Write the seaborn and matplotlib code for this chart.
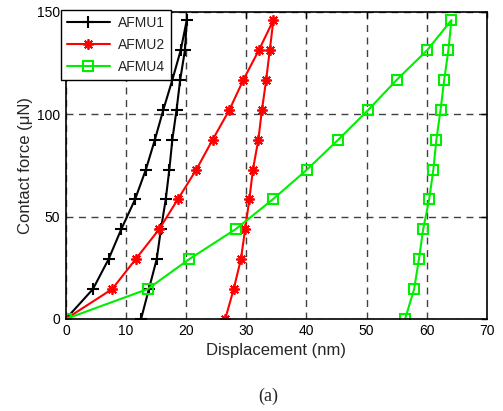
import matplotlib
matplotlib.use("Agg")
import matplotlib.pyplot as plt
import seaborn as sns
import pandas as pd

# ---- data ----
force_levels = [0, 14.6, 29.2, 43.8, 58.4, 73.0, 87.6, 102.2, 116.8, 131.4, 146.0]

afmu1_load = [0, 4.5, 7.1, 9.2, 11.5, 13.3, 14.8, 16.2, 17.7, 19.1, 20.1]
afmu1_unload = [19.8, 19.0, 18.4, 17.7, 17.2, 16.6, 15.8, 15.1, 13.8, 12.5]

afmu2_load = [0, 7.7, 11.6, 15.5, 18.6, 21.7, 24.4, 27.2, 29.5, 32.1, 34.5]
afmu2_unload = [33.9, 33.3, 32.6, 32.0, 31.1, 30.5, 29.8, 29.1, 27.9, 26.5]

afmu4_load = [0, 13.6, 20.5, 28.2, 34.4, 40.1, 45.3, 50.3, 55.0, 60.1, 64.1]
afmu4_unload = [63.6, 62.9, 62.3, 61.6, 61.1, 60.4, 59.4, 58.7, 57.9, 56.4]

series_names = ["AFMU1", "AFMU2", "AFMU4"]
x_ticks = [0, 10, 20, 30, 40, 50, 60, 70]
y_ticks = [0, 50, 100, 150]

# ---- build table ----
rows = []
for name, load, unload in zip(series_names,
                              [afmu1_load, afmu2_load, afmu4_load],
                              [afmu1_unload, afmu2_unload, afmu4_unload]):
    disp = load + unload
    force = force_levels + force_levels[:-1][::-1]
    for i, (d, f) in enumerate(zip(disp, force)):
        rows.append({"series": name, "disp": d, "force": f, "order": i})
df = pd.DataFrame(rows)

sns.set_style("white")
plt.rcParams["font.family"] = ["Liberation Sans", "DejaVu Sans"]
plt.rcParams["xtick.direction"] = "in"
plt.rcParams["ytick.direction"] = "in"

fig = plt.figure(figsize=(5.03, 4.11), dpi=100)
ax = fig.add_axes([0.131, 0.224, 0.837, 0.747])

styles = {
    "AFMU1": dict(color="black", marker="+", markersize=9, markeredgewidth=1.5,
                  markerfacecolor="black"),
    "AFMU2": dict(color="#ff0000", marker=(8, 2, 0), markersize=7.5, markeredgewidth=1.3,
                  markerfacecolor="#ff0000"),
    "AFMU4": dict(color="#00ee00", marker="s", markersize=7, markeredgewidth=1.5,
                  markerfacecolor="none"),
}

for name in series_names:
    sub = df[df["series"] == name].sort_values("order")
    st = styles[name]
    sns.lineplot(data=sub, x="disp", y="force", sort=False, estimator=None,
                 ax=ax, linewidth=1.5, label=name, markeredgecolor=st["color"], **st)

ax.set_xlim(0, 70)
ax.set_ylim(0, 150)
ax.set_xticks(x_ticks)
ax.set_yticks(y_ticks)
ax.tick_params(axis="both", which="both", direction="in", top=True, right=True,
               labelsize=10, length=4, width=1, colors="black", pad=4)
for s in ax.spines.values():
    s.set_visible(True)
    s.set_color("black")
    s.set_linewidth(1.2)

ax.grid(True, linestyle=(0, (5, 4)), color="#404040", linewidth=1.0)
ax.set_axisbelow(True)

ax.set_xlabel("Displacement (nm)", fontsize=12, labelpad=3)
ax.set_ylabel("Contact force (\u03bcN)", fontsize=12, labelpad=3)

leg = ax.legend(loc="upper left", bbox_to_anchor=(-0.012, 1.007), borderaxespad=0,
                fancybox=False, edgecolor="black", framealpha=1, fontsize=10,
                handlelength=3.1, borderpad=0.42, labelspacing=0.58, handletextpad=0.6)
leg.get_frame().set_linewidth(1.0)

fig.text(0.533, 0.015, "(a)", ha="center", va="bottom", fontsize=13,
         family=["Liberation Serif", "DejaVu Serif"])

fig.savefig("out.png", dpi=100)
